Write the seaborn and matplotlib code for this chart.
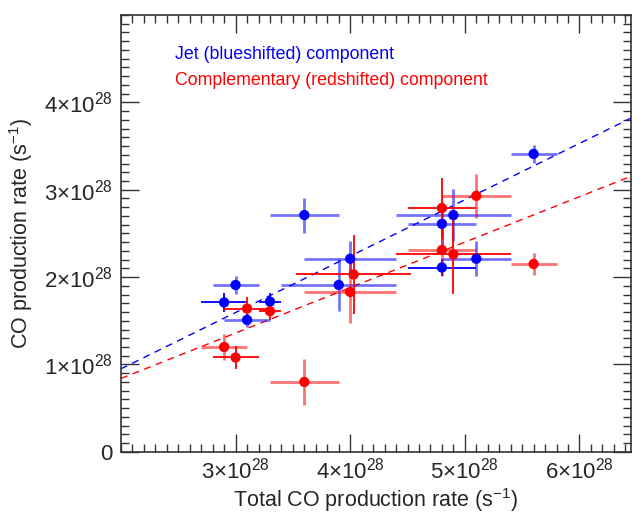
import matplotlib
matplotlib.use("Agg")
import matplotlib.pyplot as plt
from matplotlib.ticker import MultipleLocator, FixedLocator, FuncFormatter
import numpy as np
import pandas as pd
import seaborn as sns
# ----------------------------------------------------------------------------------
# Data (production rates in units of 1e28 s^-1)

blue_total = [3.6, 3.0, 2.9, 3.3, 3.1, 4.0, 3.9, 5.6, 4.9, 4.8, 5.1, 4.8]
blue_rate  = [2.71, 1.91, 1.71, 1.72, 1.51, 2.21, 1.91, 3.41, 2.71, 2.61, 2.21, 2.11]
blue_xerr  = [0.3, 0.2, 0.2, 0.1, 0.2, 0.4, 0.5, 0.2, 0.5, 0.3, 0.3, 0.3]
blue_yerr  = [0.2, 0.1, 0.11, 0.1, 0.08, 0.2, 0.3, 0.1, 0.3, 0.25, 0.2, 0.1]
blue_faint = [1, 1, 0, 0, 1, 1, 1, 1, 1, 1, 1, 0]

red_total = [3.1, 3.3, 4.03, 4.0, 5.1, 4.8, 4.8, 4.9, 5.6, 2.9, 3.0, 3.6]
red_rate  = [1.64, 1.61, 2.03, 1.83, 2.93, 2.79, 2.31, 2.26, 2.15, 1.20, 1.08, 0.80]
red_xerr  = [0.2, 0.1, 0.5, 0.4, 0.3, 0.3, 0.3, 0.5, 0.2, 0.2, 0.2, 0.3]
red_yerr  = [0.13, 0.1, 0.45, 0.35, 0.25, 0.35, 0.3, 0.45, 0.13, 0.15, 0.13, 0.26]
red_faint = [0, 0, 0, 1, 1, 0, 1, 0, 1, 1, 0, 1]

# linear fits: rate = a + b * total
blue_fit = (-0.34, 0.645)
red_fit  = (-0.20, 0.52)

BLUE = "#0000ff"
RED  = "#ff0000"
# ----------------------------------------------------------------------------------
# Plot

sns.set_style("ticks")
plt.rcParams["font.family"] = ["Liberation Sans", "DejaVu Sans"]
plt.rcParams["mathtext.fontset"] = "custom"
plt.rcParams["mathtext.rm"] = "Liberation Sans"

df = pd.DataFrame({
    "total": blue_total + red_total,
    "rate": blue_rate + red_rate,
    "comp": ["blue"] * len(blue_total) + ["red"] * len(red_total),
})

fig = plt.figure(figsize=(6.4, 5.17), dpi=100)
ax = fig.add_axes([0.189, 0.126, 0.797, 0.845])

def draw_errors(xs, ys, xe, ye, faint, color):
    for x, y, dx, dy, f in zip(xs, ys, xe, ye, faint):
        ax.errorbar(x, y, xerr=dx, yerr=dy, fmt="none", ecolor=color,
                    elinewidth=2.0 if f else 1.3, alpha=0.55 if f else 1.0,
                    capsize=0, zorder=2)

draw_errors(blue_total, blue_rate, blue_xerr, blue_yerr, blue_faint, BLUE)
draw_errors(red_total, red_rate, red_xerr, red_yerr, red_faint, RED)

sns.scatterplot(data=df, x="total", y="rate", hue="comp",
                palette={"blue": BLUE, "red": RED}, s=55, linewidth=0,
                legend=False, ax=ax, zorder=3)

xline = np.array([2.0, 6.5])
for (a, b), c in [(blue_fit, BLUE), (red_fit, RED)]:
    ax.plot(xline, a + b * xline, color=c, lw=1.0, ls=(0, (5, 4)), zorder=1)

ax.set_xlim(2.0, 6.45)
ax.set_ylim(0, 5.0)

ax.xaxis.set_major_locator(FixedLocator([3, 4, 5, 6]))
ax.yaxis.set_major_locator(FixedLocator([0, 1, 2, 3, 4]))
ax.xaxis.set_minor_locator(MultipleLocator(0.1))
ax.yaxis.set_minor_locator(MultipleLocator(0.1))

def fmt(v, pos):
    if abs(v) < 1e-9:
        return "0"
    return r"$\mathregular{%d{\times}10^{28}}$" % round(v)

ax.xaxis.set_major_formatter(FuncFormatter(fmt))
ax.yaxis.set_major_formatter(FuncFormatter(fmt))

ax.tick_params(which="both", direction="in", top=True, right=True,
               color="#333333", width=1.0, labelsize=16)
ax.tick_params(which="major", length=13)
ax.tick_params(which="minor", length=6)
ax.tick_params(axis="x", which="major", pad=4)
ax.tick_params(axis="y", which="major", pad=6)
for sp in ax.spines.values():
    sp.set_linewidth(1.2)
    sp.set_color("#333333")

ax.set_xlabel(r"Total CO production rate (s$\mathregular{^{-1}}$)",
              fontsize=15.5, labelpad=2)
ax.set_ylabel(r"CO production rate (s$\mathregular{^{-1}}$)", fontsize=15.5,
              labelpad=6)

ax.text(0.106, 0.90, "Jet (blueshifted) component", color=BLUE,
        fontsize=12.8, transform=ax.transAxes)
ax.text(0.106, 0.84, "Complementary (redshifted) component", color=RED,
        fontsize=12.8, transform=ax.transAxes)

plt.savefig("out.png", dpi=100)
